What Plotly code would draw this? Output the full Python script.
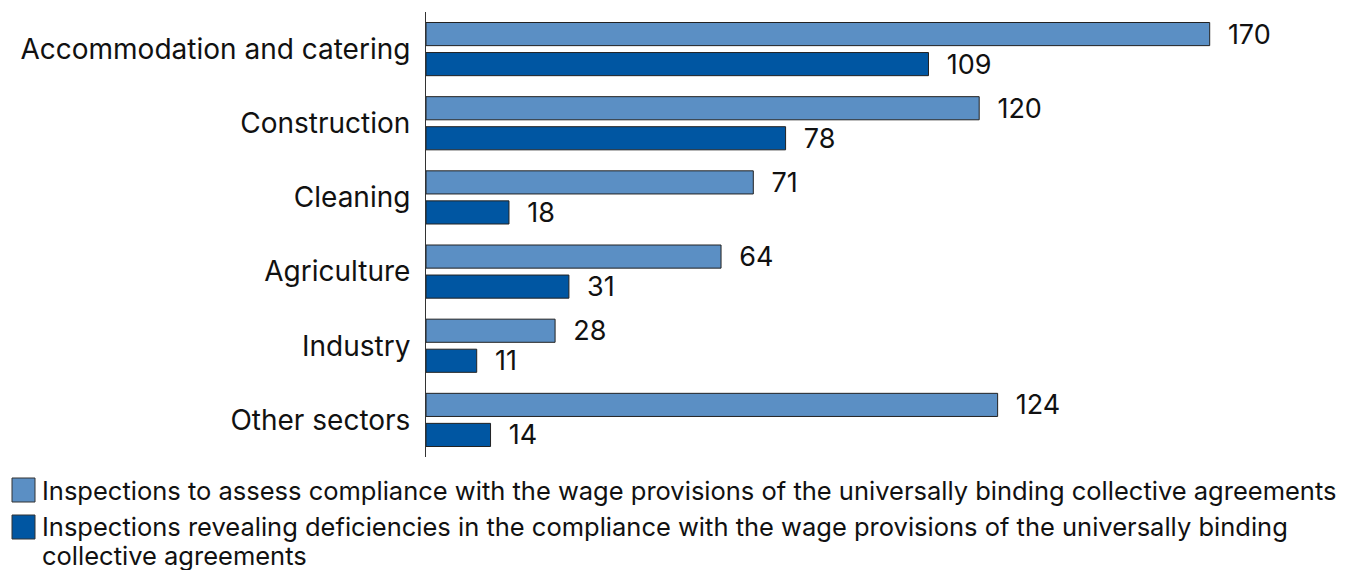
import plotly.graph_objects as go

categories = ["Accommodation and catering", "Construction", "Cleaning",
              "Agriculture", "Industry", "Other sectors"]
inspections = [170, 120, 71, 64, 28, 124]
deficiencies = [109, 78, 18, 31, 11, 14]
series_names = [
    "Inspections to assess compliance with the wage provisions of the universally binding collective agreements",
    "Inspections revealing deficiencies in the compliance with the wage provisions of the universally binding",
    "collective agreements",
]

LIGHT = "#5B8FC4"
DARK = "#0056A2"
FONT = "Inter"

W, H = 1351, 570
L, R, T, B = 426, 3, 12, 113
pw, ph = W - L - R, H - T - B


def px2x(px):
    return (px - L) / pw


def py2y(py):
    return (H - B - py) / ph


fig = go.Figure()
for vals, col in [(inspections, LIGHT), (deficiencies, DARK)]:
    fig.add_trace(go.Bar(
        y=categories, x=vals, orientation="h",
        marker=dict(color=col, line=dict(color="#222222", width=1)),
        text=vals, texttemplate="\u00a0\u00a0%{x}", textposition="outside",
        constraintext="none",
        textfont=dict(family=FONT, size=27, color="#111111"),
        cliponaxis=False, showlegend=False,
    ))

# manual legend
shapes = []
annotations = []
sq = [(478, 502, LIGHT), (515, 539, DARK)]
for (y0, y1, col) in sq:
    shapes.append(dict(type="rect", xref="paper", yref="paper",
                       x0=px2x(12), x1=px2x(35), y0=py2y(y1), y1=py2y(y0),
                       fillcolor=col, line=dict(color="#333333", width=1)))
for text, cy in zip(series_names, [490, 526, 555]):
    annotations.append(dict(xref="paper", yref="paper", x=px2x(40), y=py2y(cy),
                            text=text, showarrow=False, xanchor="left", yanchor="middle",
                            font=dict(family=FONT, size=25.5, color="#111111")))

fig.update_layout(
    width=W, height=H,
    margin=dict(l=L, r=R, t=T, b=B),
    paper_bgcolor="white", plot_bgcolor="white",
    barmode="group", bargap=0.19, bargroupgap=0.23,
    xaxis=dict(range=[0, 200], visible=False, showgrid=False),
    yaxis=dict(autorange="reversed", showline=True, linecolor="#333333", linewidth=1,
               ticks="", showgrid=False, ticklabelstandoff=9,
               tickfont=dict(family=FONT, size=28, color="#111111")),
    shapes=shapes, annotations=annotations,
    font=dict(family=FONT),
)

fig.write_html("out.html")
